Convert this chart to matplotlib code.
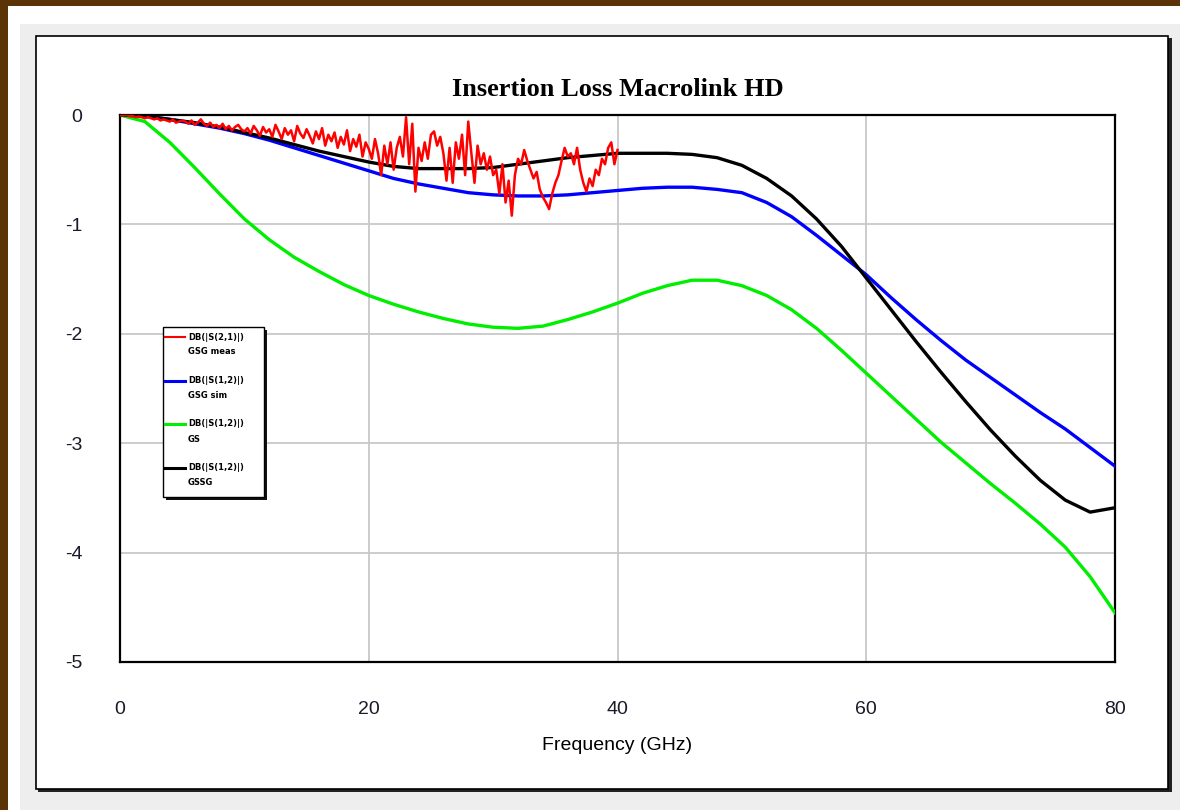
import numpy as np
import matplotlib
matplotlib.use("Agg")
import matplotlib.pyplot as plt
from matplotlib.patches import Rectangle
from matplotlib.lines import Line2D

plt.rcParams["axes.unicode_minus"] = False

# ---- data ----
freq_sim = list(range(0, 82, 2))  # GHz

gsg_sim = [0, -0.01, -0.04, -0.08, -0.12, -0.17, -0.23, -0.30, -0.37, -0.44,
           -0.51, -0.58, -0.63, -0.67, -0.71, -0.73, -0.74, -0.74, -0.73, -0.71,
           -0.69, -0.67, -0.66, -0.66, -0.68, -0.71, -0.80, -0.93, -1.10, -1.28,
           -1.46, -1.67, -1.87, -2.06, -2.24, -2.40, -2.56, -2.72, -2.87, -3.04,
           -3.21]

gssg = [0, -0.01, -0.04, -0.07, -0.11, -0.16, -0.21, -0.27, -0.33, -0.38,
        -0.43, -0.47, -0.49, -0.49, -0.49, -0.48, -0.45, -0.42, -0.39, -0.37,
        -0.35, -0.35, -0.35, -0.36, -0.39, -0.46, -0.58, -0.74, -0.95, -1.20,
        -1.49, -1.78, -2.07, -2.35, -2.62, -2.88, -3.12, -3.34, -3.52, -3.63,
        -3.59]

gs = [0, -0.06, -0.25, -0.48, -0.72, -0.95, -1.14, -1.30, -1.43, -1.55,
      -1.65, -1.73, -1.80, -1.86, -1.91, -1.94, -1.95, -1.93, -1.87, -1.80,
      -1.72, -1.63, -1.56, -1.51, -1.51, -1.56, -1.65, -1.78, -1.95, -2.15,
      -2.36, -2.57, -2.78, -2.99, -3.18, -3.37, -3.55, -3.74, -3.95, -4.22,
      -4.55]

freq_meas = [i * 0.25 for i in range(161)]  # 0 .. 40 GHz
gsg_meas = [
    0, -0.005, 0, -0.01, -0.01, -0.02, -0.015, -0.02, -0.03, -0.02,
    -0.03, -0.04, -0.03, -0.05, -0.04, -0.05, -0.06, -0.04, -0.07, -0.06,
    -0.05,
    -0.06, -0.08, -0.05, -0.09, -0.07, -0.04, -0.08, -0.10, -0.07, -0.11,
    -0.09, -0.12, -0.08, -0.13, -0.10, -0.14, -0.11, -0.09, -0.13, -0.15,
    -0.12, -0.17, -0.10, -0.14, -0.19, -0.11, -0.16, -0.13, -0.20, -0.09,
    -0.15, -0.22, -0.12, -0.18, -0.14, -0.24, -0.10, -0.17, -0.21, -0.13,
    -0.19, -0.26, -0.15, -0.22, -0.12, -0.28, -0.18, -0.24, -0.16, -0.30,
    -0.20, -0.27, -0.14, -0.33, -0.22, -0.29, -0.18, -0.38, -0.25, -0.31,
    -0.40, -0.22, -0.35, -0.55, -0.28, -0.45, -0.25, -0.50, -0.30, -0.20,
    -0.38, -0.02, -0.45, -0.08, -0.70, -0.30, -0.42, -0.25, -0.40, -0.18,
    -0.15, -0.28, -0.20, -0.35, -0.60, -0.30, -0.62, -0.25, -0.40, -0.18,
    -0.55, -0.06, -0.35, -0.62, -0.28, -0.45, -0.35, -0.50, -0.38, -0.55,
    -0.50, -0.72, -0.45, -0.80, -0.60, -0.92, -0.55, -0.40, -0.45, -0.32,
    -0.42, -0.50, -0.58, -0.52, -0.68, -0.75, -0.80, -0.86, -0.72, -0.62,
    -0.55, -0.42, -0.30, -0.38, -0.35, -0.45, -0.30, -0.50, -0.62, -0.70,
    -0.58, -0.65, -0.50, -0.55, -0.40, -0.45, -0.30, -0.25, -0.45, -0.32,
]

series_names = ["DB(|S(2,1)|)", "DB(|S(1,2)|)", "DB(|S(1,2)|)", "DB(|S(1,2)|)"]
series_tags = ["GSG meas", "GSG sim", "GS", "GSSG"]

x_ticks = [0, 20, 40, 60, 80]
y_ticks = [0, -1, -2, -3, -4, -5]

W, H = 1180, 810


def fx(x):
    return x / W


def fy(y):
    return 1 - y / H


fig = plt.figure(figsize=(W / 100, H / 100), dpi=100)
fig.patch.set_facecolor("#5a3306")
tf = fig.transFigure

# framing backgrounds
fig.patches.append(Rectangle((fx(8), 0), 1 - fx(8), fy(6), transform=tf,
                             facecolor="white", edgecolor="none", zorder=-3))
fig.patches.append(Rectangle((fx(20), 0), 1 - fx(20), fy(24), transform=tf,
                             facecolor="#eeeeee", edgecolor="none", zorder=-2))
# shadow + box
fig.patches.append(Rectangle((fx(38), fy(792)), fx(1172 - 38), (792 - 38) / H,
                             transform=tf, facecolor="#222222", edgecolor="none", zorder=-1))
fig.patches.append(Rectangle((fx(36), fy(789)), fx(1168 - 36), (789 - 36) / H,
                             transform=tf, facecolor="white", edgecolor="black", lw=1.2, zorder=-1))

ax = fig.add_axes([fx(120), fy(662), fx(1115 - 120), (662 - 115) / H])
ax.set_xlim(0, 80)
ax.set_ylim(-5, 0)
ax.set_xticks(x_ticks)
ax.set_yticks(y_ticks)
ax.grid(True, color="#c8c8c8", lw=1.3)
ax.set_axisbelow(True)
for s in ax.spines.values():
    s.set_linewidth(1.6)
    s.set_color("black")
ax.tick_params(length=0, labelsize=14, colors="#1a1a2a")
for lab in ax.get_xticklabels() + ax.get_yticklabels():
    lab.set_fontfamily("Liberation Sans")
ax.tick_params(axis="y", pad=27)
ax.tick_params(axis="x", pad=28)

colors = ["#ff0000", "#0000ff", "#00ee00", "black"]
ax.plot(freq_meas, gsg_meas, color=colors[0], lw=1.8, zorder=5)
ax.plot(freq_sim, gsg_sim, color=colors[1], lw=2.4, zorder=3)
ax.plot(freq_sim, gs, color=colors[2], lw=2.4, zorder=3)
ax.plot(freq_sim, gssg, color=colors[3], lw=2.4, zorder=4)

# legend box (drawn in figure pixel coordinates)
fig.patches.append(Rectangle((fx(166), fy(500)), fx(264 - 163), (497 - 327) / H,
                             transform=tf, facecolor="#111111", edgecolor="none", zorder=10))
fig.patches.append(Rectangle((fx(163), fy(497)), fx(264 - 163), (497 - 327) / H,
                             transform=tf, facecolor="white", edgecolor="black", lw=1.0, zorder=11))
for i, (nm, tg, c) in enumerate(zip(series_names, series_tags, colors)):
    yy = 337 + 43.5 * i
    fig.lines.append(Line2D([fx(165), fx(185)], [fy(yy), fy(yy)], transform=tf,
                            color=c, lw=2.2 if i else 1.5, zorder=12))
    fig.text(fx(188), fy(yy), nm, fontsize=6, fontweight="bold", va="center",
             ha="left", family="DejaVu Sans", zorder=12)
    fig.text(fx(188), fy(yy + 15), tg, fontsize=6, fontweight="bold", va="center",
             ha="left", family="DejaVu Sans", zorder=12)

ax.set_title("Insertion Loss Macrolink HD", fontfamily="Liberation Serif",
             fontweight="bold", fontsize=19, pad=14)
ax.set_xlabel("Frequency (GHz)", fontsize=14, labelpad=14, fontfamily="Liberation Sans")

fig.savefig("out.png", dpi=100, facecolor=fig.get_facecolor())
